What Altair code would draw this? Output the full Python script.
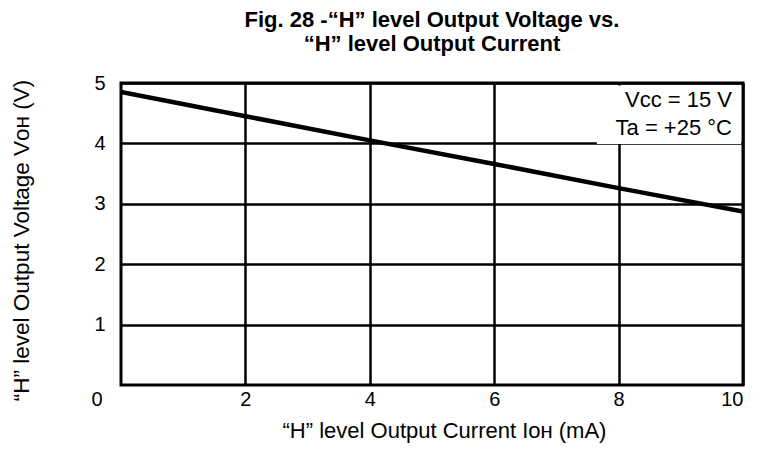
import altair as alt
import pandas as pd

# data
current_mA = [0, 2, 4, 6, 8, 10]
voltage_V = [4.85, 4.45, 4.05, 3.66, 3.26, 2.87]

x_ticks = [2, 4, 6, 8, 10]
y_ticks = [1, 2, 3, 4, 5]

title_lines = ["Fig. 28 -“H” level Output Voltage vs.", "“H” level Output Current"]
x_title = "“H” level Output Current Iᴏʜ (mA)"
y_title = "“H” level Output Voltage Vᴏʜ (V)"
note_line1 = "Vᴄᴄ = 15 V"
note_line2 = "Ta = +25 °C"

df = pd.DataFrame({"I": current_mA, "V": voltage_V})

FONT = "Liberation Sans"
W, H = 622, 302

x_scale = alt.Scale(domain=[0, 10], nice=False, zero=False)
y_scale = alt.Scale(domain=[0, 5], nice=False, zero=False)

x_axis = alt.Axis(
    values=x_ticks, format="d", title=x_title, grid=True, gridColor="black",
    gridWidth=2.5, gridOpacity=1, ticks=False, domain=False, labelFontSize=20,
    labelFont=FONT, labelColor="black", labelPadding=4, titleFontSize=22,
    titleFont=FONT, titleFontWeight="normal", titleColor="black",
    titlePadding=11, titleX=323, titleAlign="center",
)
y_axis = alt.Axis(
    values=y_ticks, format="d", title=y_title, grid=True, gridColor="black",
    gridWidth=2.5, gridOpacity=1, ticks=False, domain=False, labelFontSize=20,
    labelFont=FONT, labelColor="black", labelPadding=16, titleFontSize=22.5,
    titleFont=FONT, titleFontWeight="normal", titleColor="black",
    titlePadding=60, titleY=157, titleAlign="center",
)

line = alt.Chart(df).mark_line(color="black", strokeWidth=4.5, clip=True).encode(
    x=alt.X("I:Q", scale=x_scale, axis=x_axis),
    y=alt.Y("V:Q", scale=y_scale, axis=y_axis),
)

box = alt.Chart().mark_rect(color="white").encode(
    x=alt.datum(7.65, scale=x_scale), x2=alt.datum(9.97),
    y=alt.datum(4.96, scale=y_scale), y2=alt.datum(3.99),
)

note1 = alt.Chart().mark_text(
    align="right", baseline="middle", fontSize=22, font=FONT, color="black", dx=-11,
).encode(
    x=alt.datum(10, scale=x_scale), y=alt.datum(4.72, scale=y_scale),
    text=alt.value(note_line1),
)
note2 = alt.Chart().mark_text(
    align="right", baseline="middle", fontSize=22, font=FONT, color="black", dx=-11,
).encode(
    x=alt.datum(10, scale=x_scale), y=alt.datum(4.26, scale=y_scale),
    text=alt.value(note_line2),
)

zero = alt.Chart().mark_text(
    align="center", baseline="middle", fontSize=20, font=FONT, color="black",
    dx=-24, dy=15,
).encode(
    x=alt.datum(0, scale=x_scale), y=alt.datum(0, scale=y_scale),
    text=alt.value("0"),
)

chart = alt.layer(line, box, note1, note2, zero).properties(
    width=W,
    height=H,
    autosize=alt.AutoSizeParams(type="none"),
    padding={"left": 113, "top": 75, "right": 8, "bottom": 62},
    title=alt.TitleParams(
        text=title_lines, fontSize=22, font=FONT, fontWeight="bold",
        color="black", anchor="middle", lineHeight=24, offset=17,
    ),
).configure_view(stroke="black", strokeWidth=3)

chart.save("out.html", embed_options={"renderer": "svg", "actions": False})
